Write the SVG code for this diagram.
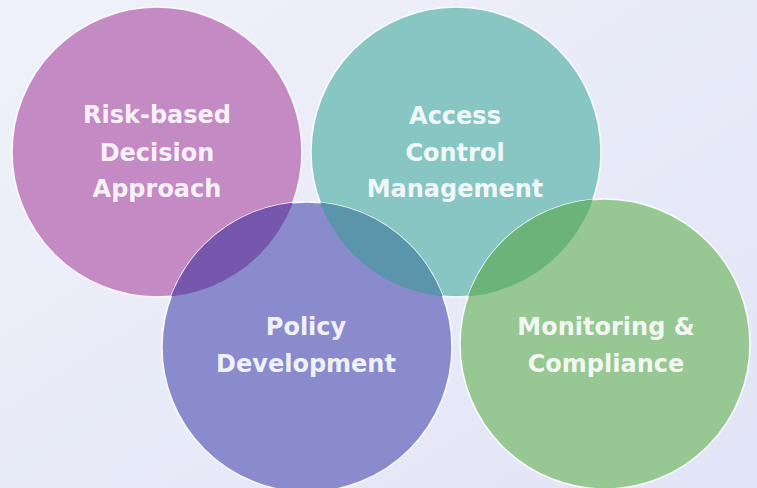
<svg xmlns="http://www.w3.org/2000/svg" width="757" height="488" viewBox="0 0 757 488">
<defs>
<linearGradient id="bg" x1="0" y1="0" x2="1" y2="1">
<stop offset="0" stop-color="#eff2f9"/>
<stop offset="1" stop-color="#e2e4f7"/>
</linearGradient>
<clipPath id="c1"><circle cx="157" cy="152" r="145"/></clipPath>
<clipPath id="c2"><circle cx="456" cy="152" r="145"/></clipPath>
<style>
.ring{stroke:#ffffff;stroke-width:1.5;stroke-opacity:0.9}
.lbl{font-family:"DejaVu Sans","Open Sans",sans-serif;font-weight:700;font-size:24px;fill:#ffffff;fill-opacity:0.9;text-anchor:middle}
</style>
</defs>
<rect width="757" height="488" fill="url(#bg)"/>
<g id="node-risk">
<circle class="ring" cx="157" cy="152" r="145" fill="#c38ac3"/>
</g>
<g id="node-access">
<circle class="ring" cx="456" cy="152" r="145" fill="#87c6c3"/>
</g>
<g id="node-policy">
<circle class="ring" cx="307" cy="347" r="145" fill="#8a8bcc"/>
<circle cx="307" cy="347" r="145" fill="#7558ae" clip-path="url(#c1)"/>
<circle cx="307" cy="347" r="145" fill="#5a95ac" clip-path="url(#c2)"/>
</g>
<g id="node-monitoring">
<circle class="ring" cx="605" cy="344" r="145" fill="#97c792"/>
<circle cx="605" cy="344" r="145" fill="#6ab47a" clip-path="url(#c2)"/>
</g>
<g id="labels">
<text class="lbl" x="157" y="123">Risk-based</text>
<text class="lbl" x="157" y="161">Decision</text>
<text class="lbl" x="157" y="197">Approach</text>
<text class="lbl" x="455" y="124">Access</text>
<text class="lbl" x="455" y="161">Control</text>
<text class="lbl" x="455" y="197">Management</text>
<text class="lbl" x="306" y="335">Policy</text>
<text class="lbl" x="306" y="372">Development</text>
<text class="lbl" x="606" y="335">Monitoring &amp;</text>
<text class="lbl" x="606" y="372">Compliance</text>
</g>
</svg>
